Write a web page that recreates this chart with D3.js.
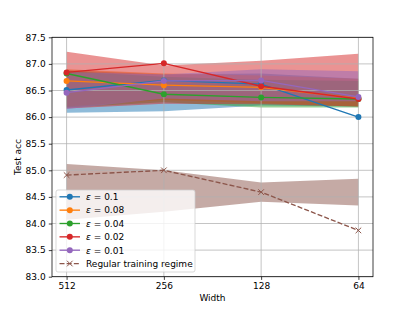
<!DOCTYPE html>
<html><head><meta charset="utf-8">
<script src="https://cdn.jsdelivr.net/npm/d3@7"></script>
<style>body{margin:0;background:#fff}svg{font-family:"DejaVu Sans",sans-serif}</style>
</head><body>
<svg id="c" width="415" height="311"></svg>
<script>
const widths = ["512", "256", "128", "64"];
const yTicks = [83.0, 83.5, 84.0, 84.5, 85.0, 85.5, 86.0, 86.5, 87.0, 87.5];
const epsLabels = ["0.1", "0.08", "0.04", "0.02", "0.01"];
const colors = ["#1f77b4", "#ff7f0e", "#2ca02c", "#d62728", "#9467bd"];
const eps01 = [86.51, 86.69, 86.62, 86.0];
const eps008 = [86.68, 86.60, 86.56, 86.35];
const eps004 = [86.82, 86.43, 86.37, 86.34];
const eps002 = [86.84, 87.01, 86.58, 86.34];
const eps001 = [86.46, 86.68, 86.69, 86.38];
const eps01Lo = [86.08, 86.11, 86.22, 86.2];
const eps01Hi = [86.88, 86.80, 86.82, 86.72];
const eps008Lo = [86.2, 86.32, 86.26, 86.2];
const eps008Hi = [86.9, 86.82, 86.78, 86.72];
const eps004Lo = [86.18, 86.28, 86.18, 86.18];
const eps004Hi = [86.86, 86.76, 86.7, 86.68];
const eps002Lo = [86.16, 86.25, 86.24, 86.2];
const eps002Hi = [87.23, 86.97, 87.06, 87.19];
const eps001Lo = [86.15, 86.35, 86.3, 86.3];
const eps001Hi = [86.85, 86.8, 86.9, 86.86];
const regular = [84.91, 85.0, 84.59, 83.87];
const regularLo = [84.07, 84.22, 84.41, 84.34];
const regularHi = [85.12, 85.0, 84.77, 84.84];

const means = [eps01, eps008, eps004, eps002, eps001];
const los = [eps01Lo, eps008Lo, eps004Lo, eps002Lo, eps001Lo];
const his = [eps01Hi, eps008Hi, eps004Hi, eps002Hi, eps001Hi];
const brown = "#8c564b";

const L = 52, R = 373, T = 37.3, B = 276.7;
const FS = 9, LW = 1.35, DASH = "5,2.16";
const svg = d3.select("#c");
const x = d3.scaleLinear().domain([-0.15, 3.15]).range([L, R]);
const y = d3.scaleLinear().domain([83, 87.5]).range([B, T]);
const idx = d3.range(widths.length);

const area = (lo, hi) => d3.area().x(i => x(i)).y0(i => y(lo[i])).y1(i => y(hi[i]))(idx);
const line = v => d3.line().x(i => x(i)).y(i => y(v[i]))(idx);

svg.append("defs").append("clipPath").attr("id","clip").append("rect")
  .attr("x", L).attr("y", T).attr("width", R-L).attr("height", B-T);
const plot = svg.append("g").attr("clip-path","url(#clip)");

// bands
means.forEach((m, k) => {
  plot.append("path").attr("d", area(los[k], his[k])).attr("fill", colors[k]).attr("fill-opacity", 0.5);
});
plot.append("path").attr("d", area(regularLo, regularHi)).attr("fill", brown).attr("fill-opacity", 0.5);

// grid
const grid = svg.append("g");
yTicks.forEach(t => grid.append("line").attr("x1", L).attr("x2", R).attr("y1", y(t)).attr("y2", y(t))
  .attr("stroke", "#b0b0b0").attr("stroke-width", 0.75));
idx.forEach(i => grid.append("line").attr("x1", x(i)).attr("x2", x(i)).attr("y1", T).attr("y2", B)
  .attr("stroke", "#b0b0b0").attr("stroke-width", 0.75));

// lines
const lines = svg.append("g").attr("clip-path","url(#clip)");
means.forEach((m, k) => {
  lines.append("path").attr("d", line(m)).attr("fill", "none").attr("stroke", colors[k]).attr("stroke-width", LW);
  idx.forEach(i => lines.append("circle").attr("cx", x(i)).attr("cy", y(m[i])).attr("r", 3).attr("fill", colors[k]));
});
lines.append("path").attr("d", line(regular)).attr("fill", "none").attr("stroke", brown)
  .attr("stroke-width", LW).attr("stroke-dasharray", DASH);
const xMark = (g, cx, cy, c) => {
  const s = 2.8;
  g.append("path").attr("d", `M${cx-s},${cy-s}L${cx+s},${cy+s}M${cx-s},${cy+s}L${cx+s},${cy-s}`)
    .attr("stroke", c).attr("stroke-width", 1).attr("fill", "none");
};
idx.forEach(i => xMark(lines, x(i), y(regular[i]), brown));

// axes
const yAxis = d3.axisLeft(y).tickValues(yTicks).tickFormat(d3.format(".1f")).tickSize(3.2).tickPadding(3.2);
const xAxis = d3.axisBottom(x).tickValues(idx).tickFormat(i => widths[i]).tickSize(3.2).tickPadding(3.2);
const ya = svg.append("g").attr("transform", `translate(${L},0)`).call(yAxis);
const xa = svg.append("g").attr("transform", `translate(0,${B})`).call(xAxis);
[ya, xa].forEach(a => {
  a.select(".domain").remove();
  a.selectAll("text").attr("font-size", FS).attr("fill", "#000").attr("font-family", "DejaVu Sans");
  a.selectAll("line").attr("stroke", "#000").attr("stroke-width", 0.75);
});
svg.append("rect").attr("x", L).attr("y", T).attr("width", R-L).attr("height", B-T)
  .attr("fill", "none").attr("stroke", "#000").attr("stroke-width", 0.75);

svg.append("text").attr("x", (L+R)/2).attr("y", 301).attr("text-anchor", "middle")
  .attr("font-size", FS).text("Width");
svg.append("text").attr("transform", `translate(20.5,${(T+B)/2}) rotate(-90)`).attr("text-anchor", "middle")
  .attr("font-size", FS).text("Test acc");

// legend
const lg = svg.append("g");
lg.append("rect").attr("x", 56).attr("y", 190).attr("width", 139).attr("height", 82).attr("rx", 2)
  .attr("fill", "#fff").attr("fill-opacity", 0.8).attr("stroke", "#cccccc").attr("stroke-width", 0.75);
const rowY = k => 196.8 + k * 13.35;
epsLabels.forEach((lab, k) => {
  const yy = rowY(k);
  lg.append("line").attr("x1", 59.5).attr("x2", 80).attr("y1", yy).attr("y2", yy)
    .attr("stroke", colors[k]).attr("stroke-width", LW);
  lg.append("circle").attr("cx", 69.8).attr("cy", yy).attr("r", 3).attr("fill", colors[k]);
  const t = lg.append("text").attr("x", 86).attr("y", yy + 3.3).attr("font-size", FS);
  t.append("tspan").attr("font-style", "italic").text("ε");
  t.append("tspan").text(" = " + lab);
});
{
  const yy = rowY(5);
  lg.append("line").attr("x1", 59.5).attr("x2", 80).attr("y1", yy).attr("y2", yy)
    .attr("stroke", brown).attr("stroke-width", LW).attr("stroke-dasharray", DASH);
  xMark(lg, 69.8, yy, brown);
  lg.append("text").attr("x", 86).attr("y", yy + 3.3).attr("font-size", FS).text("Regular training regime");
}
</script>
</body></html>
